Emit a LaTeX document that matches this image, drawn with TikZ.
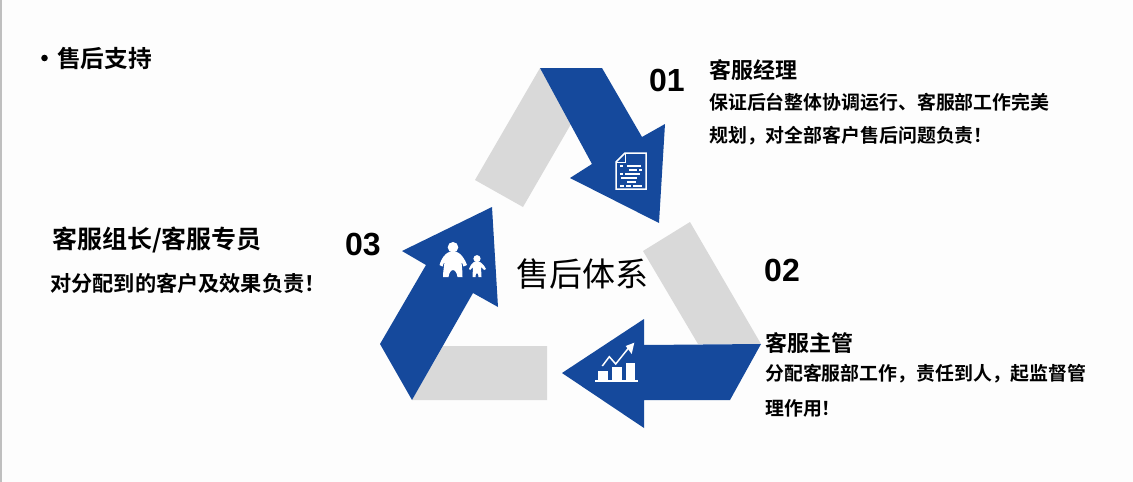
\documentclass[tikz,border=0pt]{standalone}
\usepackage{fontspec}
\setmainfont{Liberation Sans}
\newfontfamily\cjkb[BoldFont={Noto Sans CJK SC Bold}]{Noto Sans CJK SC}
\definecolor{arrowblue}{HTML}{15499C}
\definecolor{bandgray}{HTML}{D9D9D9}
\definecolor{pagebg}{HTML}{FDFDFD}
\definecolor{edgegray}{HTML}{BFBFBF}
\tikzset{
  x=1pt,y=-1pt,
  bluearrow/.style={fill=arrowblue,draw=none},
  grayband/.style={fill=bandgray,draw=none},
  iconline/.style={draw=white,line width=1.5pt},
  iconfill/.style={fill=white,draw=none},
  lbl/.style={inner sep=0pt,anchor=west,text=black},
  headtxt/.style={lbl,font=\cjkb\bfseries\fontsize{22}{24}\selectfont},
  bodytxt/.style={lbl,font=\cjkb\bfseries\fontsize{18.9}{21}\selectfont},
  numtxt/.style={lbl,font=\bfseries\fontsize{32}{36}\selectfont},
}
\begin{document}
\begin{tikzpicture}
\useasboundingbox (0,0) rectangle (1133,482);
\fill[pagebg] (0,0) rectangle (1133,482);
\fill[edgegray] (0,0) rectangle (2,482);
% gray bands
\fill[grayband] (540,68) -- (475,180) -- (523,207) -- (571,124) -- cycle;
\fill[grayband] (690,222) -- (643,251) -- (698,344) -- (761,344) -- cycle;
\fill[grayband] (412,400) -- (443,346) -- (547,346) -- (547,400) -- cycle;
% blue arrows
\fill[bluearrow] (540,68) -- (602,68) -- (642,137) -- (665,124) -- (659,223) -- (570,178) -- (592,164) -- cycle;
\fill[bluearrow] (562,373) -- (644,319) -- (644,345) -- (761,344) -- (730,400) -- (644,400) -- (644,428) -- cycle;
\fill[bluearrow] (492,207) -- (402,251) -- (426,265) -- (380,344) -- (412,400) -- (473,293) -- (498,307) -- cycle;
% document icon
\draw[iconline] (616,162) -- (625,153) -- (646,153) -- (646,189) -- (616,189) -- cycle;
\draw[iconline,line width=1pt] (616,162) -- (625,162) -- (625,153);
\foreach \xa/\xb/\yy in {620/623/166,627/641/166,629/637/170,639/642/170,620/623/174,625/640/174,621/637/178,627/636/182,620/624/186,626/631/186,633/642/186}{
  \draw[white,line width=1.1pt] (\xa,\yy) -- (\xb,\yy);
}
% chart icon
\fill[iconfill] (598.3,370.7) rectangle (607.7,380);
\fill[iconfill] (612.3,366.7) rectangle (622.3,380);
\fill[iconfill] (626,363.3) rectangle (635.3,380);
\fill[iconfill] (595,380) rectangle (637.7,382.3);
\draw[iconline,line join=miter] (602.3,366) -- (609.3,356.7) -- (615.7,364) -- (628.3,348.3);
\fill[iconfill] (634.3,342.7) -- (625.7,346) -- (631.7,354) -- cycle;
% people icon
\fill[iconfill] (453,247.3) circle (5.3);
\fill[iconfill] (448,252.5) .. controls (450,251.5) and (456,251.5) .. (458,252.5)
  .. controls (461,254) and (465,259) .. (467,265) -- (463.5,266.5)
  .. controls (463,264) and (462,263) .. (461.5,262)
  .. controls (462,267) and (462.5,272) .. (462.5,277) -- (457.5,277)
  .. controls (457,273) and (455,270) .. (453,270)
  .. controls (451,270) and (449,273) .. (448.5,277) -- (443,277)
  .. controls (443,272) and (444,267) .. (444.5,262)
  .. controls (444,263) and (443,264) .. (442.5,266.5) -- (439.5,265)
  .. controls (441,259) and (445,254) .. (448,252.5) -- cycle;
\fill[iconfill] (477,258.7) circle (3.6);
\fill[iconfill] (473.5,262.3) .. controls (475,261.7) and (479,261.7) .. (480.5,262.3)
  .. controls (483,264) and (485,266.5) .. (486,269) -- (484,270)
  .. controls (483,269) and (482,268) .. (481,267)
  .. controls (481,270) and (481.5,274) .. (481.5,277) -- (478.5,277)
  .. controls (478.5,275) and (478,273) .. (477,273)
  .. controls (476,273) and (475.5,275) .. (475.5,277) -- (472.5,277)
  .. controls (472.5,274) and (473,270) .. (473,267)
  .. controls (472,268) and (471,269) .. (470,270) -- (469,269)
  .. controls (470,266.5) and (471,264) .. (473.5,262.3) -- cycle;
% texts
\fill[black] (44.5,58) circle (3.3);
\node[lbl,font=\cjkb\bfseries\fontsize{23.7}{26}\selectfont] (title) at (57,58) {售后支持};
\node[numtxt] (n1) at (649,80) {01};
\node[numtxt] (n2) at (764,270) {02};
\node[numtxt] (n3) at (345,245) {03};
\node[headtxt] (h1) at (709,70) {客服经理};
\node[bodytxt] (b1a) at (709,102) {保证后台整体协调运行、客服部工作完美};
\node[bodytxt] (b1b) at (709,136) {规划^^^^ff0c对全部客户售后问题负责^^^^ff01};
\node[headtxt] (h2) at (765,343) {客服主管};
\node[bodytxt] (b2a) at (765,374) {分配客服部工作^^^^ff0c责任到人^^^^ff0c起监督管};
\node[bodytxt] (b2b) at (765,408) {理作用^^^^ff01};
\node[headtxt,font=\cjkb\bfseries\fontsize{25}{27}\selectfont] (h3) at (52,240) {客服组长/客服专员};
\node[bodytxt,font=\cjkb\bfseries\fontsize{21.2}{23}\selectfont] (b3) at (50,283) {对分配到的客户及效果负责^^^^ff01};
\node[lbl,font=\cjkb\fontsize{33}{36}\selectfont] (center) at (516,274) {售后体系};
\end{tikzpicture}
\end{document}
